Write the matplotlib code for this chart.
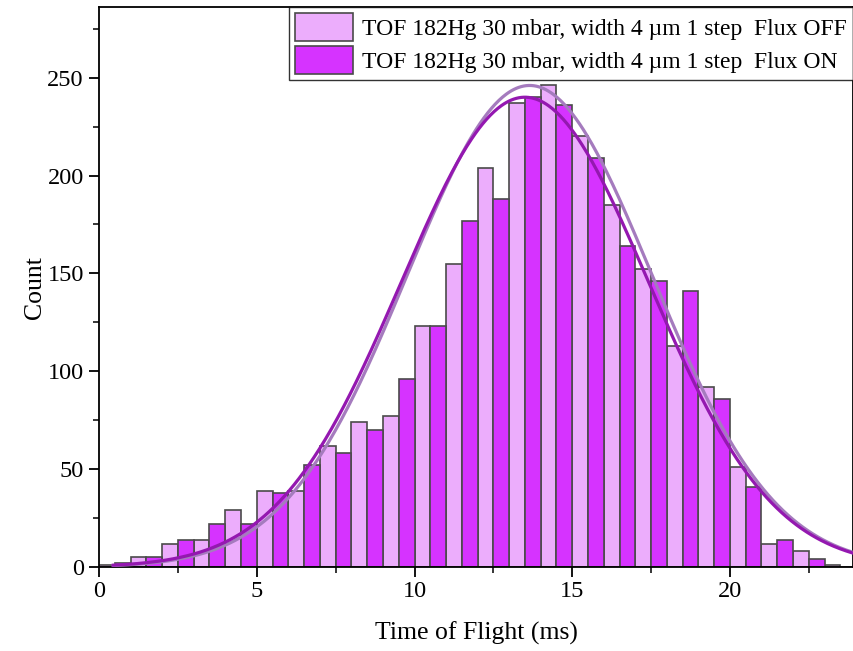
import numpy as np
import matplotlib
matplotlib.use("Agg")
import matplotlib.pyplot as plt
from matplotlib.ticker import MultipleLocator

plt.rcParams['font.family'] = ['Liberation Serif', 'DejaVu Serif']

# Bin left edges (ms): OFF bars occupy [t, t+0.5], ON bars [t+0.5, t+1]
bin_starts = list(range(0, 24))
counts_off = [1, 5, 12, 14, 29, 39, 39, 62, 74, 77, 123, 155, 204, 237, 246,
              220, 185, 152, 113, 92, 51, 12, 8, 1]
counts_on = [2, 5, 14, 22, 22, 38, 52, 58, 70, 96, 123, 177, 188, 240, 236,
             209, 164, 146, 141, 86, 41, 14, 4, 0]

# Gaussian fit parameters (amplitude, centre, sigma)
fit_off = [246, 13.65, 3.88]
fit_on = [240, 13.50, 3.92]

label_off = "TOF 182Hg 30 mbar, width 4 \u00b5m 1 step  Flux OFF"
label_on = "TOF 182Hg 30 mbar, width 4 \u00b5m 1 step  Flux ON"

c_off = "#ECADFC"
c_on = "#D633FF"
c_edge = "#4a4a4a"
c_fit_off = "#A57BBE"
c_fit_on = "#9418B0"

fig = plt.figure(figsize=(8.54, 6.51), dpi=100)
ax = fig.add_axes([0.116, 0.129, 0.8828, 0.860])

x = np.array(bin_starts, dtype=float)
ax.bar(x, counts_off, width=0.5, align='edge', color=c_off, edgecolor=c_edge,
       linewidth=1.2, label=label_off, zorder=2)
ax.bar(x + 0.5, counts_on, width=0.5, align='edge', color=c_on, edgecolor=c_edge,
       linewidth=1.2, label=label_on, zorder=2)

xx = np.linspace(0.45, 24, 600)
def gauss(t, p):
    return p[0] * np.exp(-(t - p[1]) ** 2 / (2 * p[2] ** 2))
ax.plot(xx, gauss(xx, fit_off), color=c_fit_off, lw=2.3, zorder=3)
ax.plot(xx, gauss(xx, fit_on), color=c_fit_on, lw=2.3, zorder=3)

ax.set_xlim(0, 23.9)
ax.set_ylim(0, 286)
ax.xaxis.set_major_locator(MultipleLocator(5))
ax.xaxis.set_minor_locator(MultipleLocator(2.5))
ax.yaxis.set_major_locator(MultipleLocator(50))
ax.yaxis.set_minor_locator(MultipleLocator(25))
ax.tick_params(which='major', direction='out', length=7, width=1.3, labelsize=17.5,
               top=False, right=False)
ax.tick_params(axis='y', which='major', pad=4)
ax.tick_params(axis='x', which='major', pad=3)
ax.tick_params(which='minor', direction='out', length=4, width=1.1,
               top=False, right=False)
for s in ax.spines.values():
    s.set_linewidth(1.3)

ax.set_xlabel("Time of Flight (ms)", fontsize=18.5, labelpad=14)
ax.set_ylabel("Count", fontsize=18.5, labelpad=1)

leg = ax.legend(loc='upper right', bbox_to_anchor=(1.0, 1.0), fontsize=17,
                frameon=True, fancybox=False, edgecolor='black',
                borderaxespad=0, handlelength=2.46, handleheight=1.45,
                handletextpad=0.38, borderpad=0.25, labelspacing=0.2)
leg.get_frame().set_linewidth(1.0)

fig.savefig("out.png", dpi=100)
